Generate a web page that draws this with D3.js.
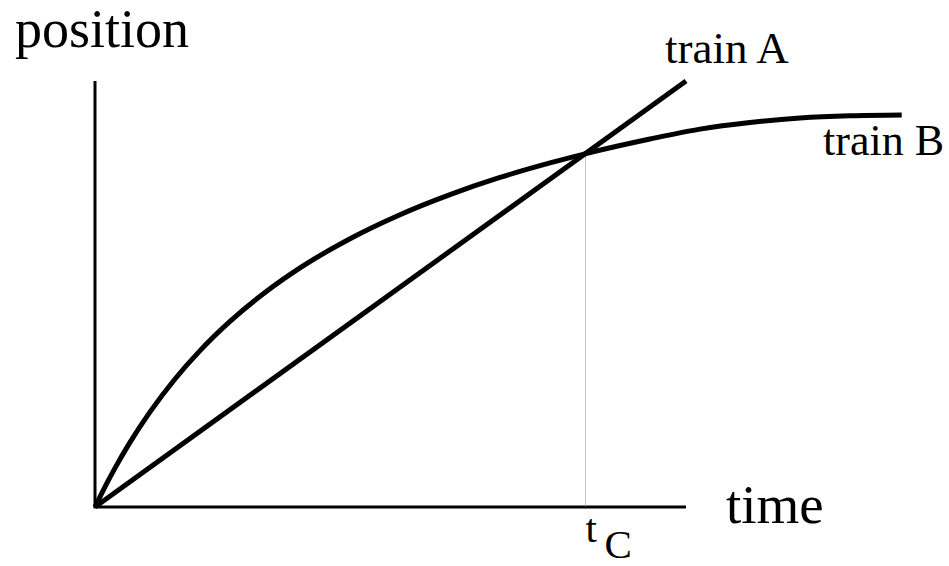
<!DOCTYPE html>
<html>
<head>
<meta charset="utf-8">
<script src="https://cdn.jsdelivr.net/npm/d3@7"></script>
<style>
  html, body { margin: 0; padding: 0; background: #fff; }
  svg { display: block; }
</style>
</head>
<body>
<svg id="chart" width="949" height="566"></svg>
<script>
// ---- data (arbitrary units: time, position) ----
const axisDomainX = [0, 10];
const axisDomainY = [0, 10];
const trainA = [[0, 0], [10, 10]];
const trainB = [
  [0, 0], [0.169, 0.474], [0.338, 0.913], [0.592, 1.516], [0.931, 2.232],
  [1.354, 3.005], [1.777, 3.671], [2.284, 4.357], [2.876, 5.035], [3.469, 5.613],
  [4.315, 6.298], [5.161, 6.862], [6.007, 7.333], [6.853, 7.735], [7.699, 8.077],
  [8.291, 8.291], [9.391, 8.638], [10.237, 8.871], [11.083, 9.026], [11.929, 9.131],
  [12.775, 9.183], [13.650, 9.202]
];
const crossingTime = 8.3;
const crossingPos = 8.3;
const labels = { y: "position", x: "time", a: "train A", b: "train B", tc: "t", tcSub: "C" };

// ---- layout ----
const FONT = '"Liberation Serif", "Times New Roman", Times, "DejaVu Serif", "Noto Serif", serif';
const svg = d3.select("#chart");
const x = d3.scaleLinear().domain(axisDomainX).range([95, 686]);
const y = d3.scaleLinear().domain(axisDomainY).range([507, 81]);

// axes (plain lines, no ticks)
svg.append("line")
  .attr("x1", x(0)).attr("y1", y(0)).attr("x2", x(0)).attr("y2", y(axisDomainY[1]))
  .attr("stroke", "#000").attr("stroke-width", 3);
svg.append("line")
  .attr("x1", x(0) - 1.5).attr("y1", y(0)).attr("x2", x(axisDomainX[1])).attr("y2", y(0))
  .attr("stroke", "#000").attr("stroke-width", 3);

// crossing dotted line
svg.append("line")
  .attr("x1", x(crossingTime)).attr("x2", x(crossingTime))
  .attr("y1", y(crossingPos)).attr("y2", y(0))
  .attr("stroke", "#888").attr("stroke-width", 1)
  .attr("stroke-dasharray", "1,1");

// trains
svg.append("path").datum(trainA)
  .attr("d", d3.line().x(d => x(d[0])).y(d => y(d[1])))
  .attr("fill", "none").attr("stroke", "#000").attr("stroke-width", 5);
svg.append("path").datum(trainB)
  .attr("d", d3.line().x(d => x(d[0])).y(d => y(d[1])).curve(d3.curveMonotoneX))
  .attr("fill", "none").attr("stroke", "#000").attr("stroke-width", 5)
  .attr("stroke-linejoin", "round");

// labels
function label(tx, ty, size, str) {
  svg.append("text").attr("x", tx).attr("y", ty)
    .attr("font-family", FONT).attr("font-size", size).attr("fill", "#000").text(str);
}
label(15, 47, 54, labels.y);
label(726, 523, 55, labels.x);
label(665, 63, 45, labels.a);
label(823, 155, 44, labels.b);
label(x(crossingTime), 542, 41, labels.tc);
label(x(crossingTime) + 19, 558, 41, labels.tcSub);
</script>
</body>
</html>
